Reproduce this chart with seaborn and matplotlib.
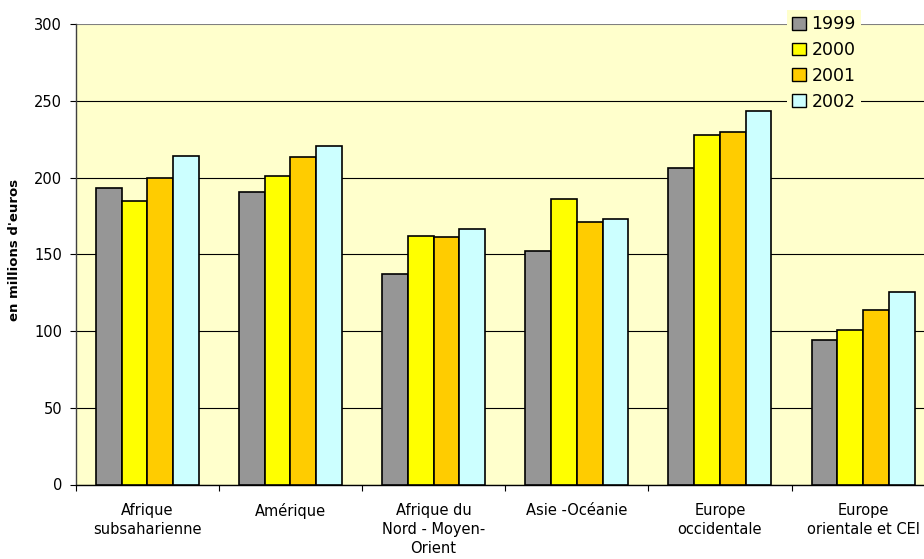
import matplotlib
matplotlib.use('Agg')
import matplotlib.pyplot as plt
from matplotlib.patches import Patch
from matplotlib.ticker import FixedLocator
import pandas as pd
import seaborn as sns

# --- Data ---
regions = ['Afrique\nsubsaharienne', 'Amérique', 'Afrique du\nNord - Moyen-\nOrient',
           'Asie -Océanie', 'Europe\noccidentale', 'Europe\norientale et CEI']
years = ['1999', '2000', '2001', '2002']
v1999 = [193, 190.5, 137.5, 152.5, 206, 94.5]
v2000 = [185, 201, 162, 186, 228, 101]
v2001 = [199.5, 213.5, 161.5, 171, 229.5, 114]
v2002 = [214, 220.5, 166.5, 173, 243.5, 125.5]
bar_colors = ['#969696', '#FFFF00', '#FFCC00', '#CCFFFF']

df = pd.DataFrame({
    'region': regions * 4,
    'year': [y for y in years for _ in regions],
    'value': v1999 + v2000 + v2001 + v2002,
})

sns.set_style('white')
plt.rcParams['font.family'] = ['DejaVu Sans']
plt.rcParams['text.color'] = 'black'
plt.rcParams['xtick.color'] = 'black'
plt.rcParams['ytick.color'] = 'black'
plt.rcParams['xtick.labelcolor'] = 'black'
plt.rcParams['ytick.labelcolor'] = 'black'

fig = plt.figure(figsize=(9.24, 5.59), dpi=100)
# plot area runs past the right edge of the picture, like the original
ax = fig.add_axes([75.7 / 924, 1 - 484.5 / 559, 859 / 924, 460.2 / 559])
ax.set_facecolor('#FFFFCC')

sns.barplot(data=df, x='region', y='value', hue='year', order=regions,
            hue_order=years, palette=bar_colors, saturation=1, width=0.72,
            edgecolor='black', linewidth=1.2, legend=False, ax=ax, zorder=3)

ax.set_xlim(-0.5, 5.5)
ax.set_ylim(0, 300)
ax.set_yticks(range(0, 301, 50))
ax.yaxis.grid(True, color='black', linewidth=0.8, zorder=0)
ax.set_axisbelow(True)
ax.get_ygridlines()[-1].set_color('#808080')

for s in ['top', 'right']:
    ax.spines[s].set_visible(False)
ax.spines['left'].set_color('#404040')
ax.spines['bottom'].set_color('black')
ax.spines['left'].set_linewidth(1.0)
ax.spines['bottom'].set_linewidth(1.0)

ax.tick_params(axis='y', which='major', length=4.3, width=0.8,
               pad=5.5, labelsize=10.5, left=True)
ax.tick_params(axis='x', which='major', length=0, pad=13, labelsize=10.5)
ax.xaxis.set_minor_locator(FixedLocator([i - 0.5 for i in range(7)]))
ax.tick_params(axis='x', which='minor', length=4, width=0.8, bottom=True)
for lab in ax.get_xticklabels():
    lab.set_linespacing(1.35)

ax.set_xlabel('')
ax.set_ylabel('')
fig.text(15 / 924, 1 - 250 / 559, "en millions d'euros", rotation=90,
         ha='center', va='center', fontsize=9.5, fontweight='bold')

handles = [Patch(facecolor=c, edgecolor='black', linewidth=1.0) for c in bar_colors]
leg = ax.legend(handles, years, loc='upper left',
                bbox_to_anchor=(787 / 924, 1 - 10 / 559),
                bbox_transform=fig.transFigure, fontsize=12.5, frameon=True,
                facecolor='#FFFFCC', edgecolor='none', framealpha=1,
                fancybox=False, borderaxespad=0, borderpad=0.3,
                handlelength=0.8, handleheight=0.75, handletextpad=0.3,
                labelspacing=0.45)
leg.set_zorder(10)

fig.savefig('out.png', dpi=100)
